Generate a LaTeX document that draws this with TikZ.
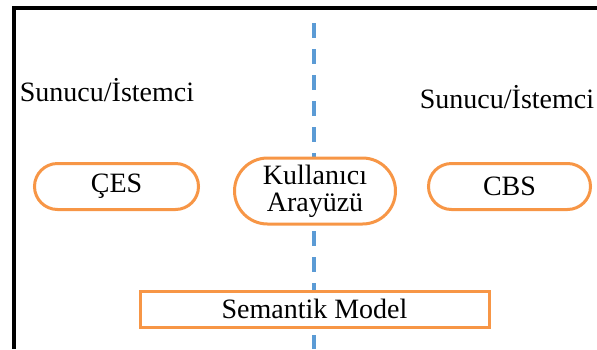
\documentclass[tikz,border=0pt]{standalone}
\usepackage{fontspec}
\setmainfont{Liberation Serif}
\usetikzlibrary{shapes.misc}
\definecolor{boxorange}{RGB}{247,150,70}
\definecolor{lineblue}{RGB}{91,155,213}
\tikzset{
  lbl/.style={font=\fontsize{28}{27}\selectfont, inner sep=0pt},
  pill/.style={rounded rectangle, draw=boxorange, line width=3pt, fill=white,
    font=\fontsize{28}{27}\selectfont, align=center, inner sep=0pt},
  modelbox/.style={rectangle, draw=boxorange, line width=3pt, fill=white,
    font=\fontsize{28}{27}\selectfont, inner sep=0pt},
  divider/.style={draw=lineblue, line width=3.5pt, dash pattern=on 15pt off 11pt},
  frame/.style={draw=black, line width=4pt}
}
\begin{document}
\begin{tikzpicture}[x=1pt,y=-1pt]
\useasboundingbox (0,0) rectangle (597,349);
% frame lines
\coordinate (ftr) at (597,8);
\coordinate (ftl) at (14,8);
\coordinate (fbl) at (14,349);
\draw[frame] (ftr) -- (ftl) -- (fbl);
% divider
\coordinate (dtop) at (314,23);
\coordinate (dbot) at (314,349);
\draw[divider] (dtop) -- (dbot);
% labels
\node[lbl] (sl) at (107,90) {Sunucu/İstemci};
\node[lbl] (sr) at (507,97) {Sunucu/İstemci};
% nodes
\node[pill, minimum width=164pt, minimum height=46pt] (ces) at (116.5,186.5) {ÇES};
\node[pill, minimum width=161pt, minimum height=66pt] (ui) at (315,191) {Kullanıcı\\Arayüzü};
\node[pill, minimum width=162pt, minimum height=46pt] (cbs) at (509.5,186.5) {CBS};
\node[modelbox, minimum width=349pt, minimum height=36pt] (sm) at (314.5,309) {Semantik Model};
\end{tikzpicture}
\end{document}
